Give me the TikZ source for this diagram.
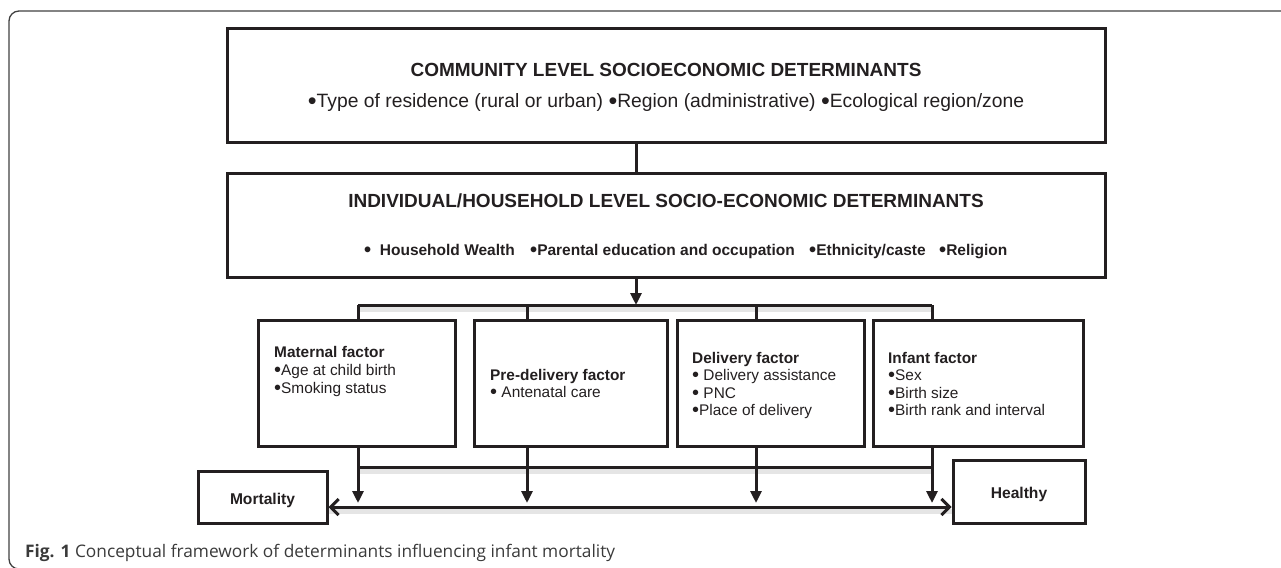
\documentclass[tikz,border=0pt]{standalone}
\usepackage{fontspec}
\setmainfont{Liberation Sans}
\newfontfamily\capfont{Open Sans}
\usetikzlibrary{arrows.meta}
\definecolor{ink}{HTML}{231F20}
\definecolor{capgray}{HTML}{3A3A3A}
\newcommand\bul{\raisebox{-0.08em}{\scalebox{1.3}{•}}}
\begin{document}
\begin{tikzpicture}[x=1pt,y=-1pt,
  box/.style={draw=ink, line width=3pt, inner sep=0pt},
  conn/.style={draw=ink, line width=3pt},
  shade/.style={draw=black!10, line width=5pt},
  downarrow/.style={conn, -{Triangle[width=11pt,length=12pt]}},
  barb/.style={conn, {Straight Barb[width=16pt,length=8pt]}-{Straight Barb[width=16pt,length=8pt]}},
  txt/.style={inner sep=0pt, anchor=base west, text=ink},
  ctxt/.style={inner sep=0pt, anchor=base, text=ink},
  factor/.style={inner sep=0pt, anchor=base west, text=ink, align=left,
    font=\fontsize{15.4}{17.5}\selectfont},
  big/.style={font=\fontsize{19.3}{22}\selectfont},
  bigb/.style={font=\fontsize{19}{22}\selectfont\bfseries},
  midb/.style={font=\fontsize{15.5}{18}\selectfont\bfseries},
  smallb/.style={font=\fontsize{15.6}{18}\selectfont\bfseries}]
\useasboundingbox (0,0) rectangle (1281,567);
\clip (0,0) rectangle (1281,567);
% outer frame
\draw[draw=black!75, line width=1.3pt, rounded corners=10pt] (9,11) rectangle (1300,569);

% main boxes
\node[box, minimum width=878pt, minimum height=113pt] (top) at (666,85.5) {};
\node[box, minimum width=878pt, minimum height=104pt] (ind) at (666,225) {};
\node[ctxt, bigb] (topT) at (666,76.5) {COMMUNITY LEVEL SOCIOECONOMIC DETERMINANTS};
\node[ctxt, big] (topL) at (666,108) {\bul Type of residence (rural or urban) \bul Region (administrative) \bul Ecological region/zone};
\node[ctxt, bigb] (indT) at (666,207) {INDIVIDUAL/HOUSEHOLD LEVEL SOCIO-ECONOMIC DETERMINANTS};
\node[txt, midb] (indA) at (364,255) {\bul\ \ Household Wealth};
\node[txt, midb] (indB) at (530,255) {\bul Parental education and occupation};
\node[txt, midb] (indC) at (809,255) {\bul Ethnicity/caste};
\node[txt, midb] (indD) at (939,255) {\bul Religion};

% factor boxes
\node[box, minimum width=197pt, minimum height=126pt] (mat) at (356.5,383) {};
\node[box, minimum width=193pt, minimum height=126pt] (pre) at (570.5,383) {};
\node[box, minimum width=186.5pt, minimum height=126pt] (del) at (771,383) {};
\node[box, minimum width=210pt, minimum height=126pt] (inf) at (978,383) {};

% factor texts (anchored at the baseline of their last line)
\node[factor] (matT) at (274,393) {\textbf{Maternal factor}\\[0.5pt] \bul Age at child birth\\[0.5pt] \bul Smoking status};
\node[factor] (preT) at (490,397.5) {\textbf{Pre-delivery factor}\\ \bul\ Antenatal care};
\node[factor] (delT) at (692,415.5) {\textbf{Delivery factor}\\ \bul\ Delivery assistance\\ \bul\ PNC\\ \bul Place of delivery};
\node[factor] (infT) at (888,415.5) {\textbf{Infant factor}\\ \bul Sex\\ \bul Birth size\\ \bul Birth rank and interval};

% outcome boxes
\node[box, minimum width=129pt, minimum height=52pt] (mort) at (262.5,497) {};
\node[box, minimum width=132pt, minimum height=63pt] (heal) at (1019,491.5) {};
\node[ctxt, smallb] (mortT) at (mort.center |- 0,504) {Mortality};
\node[ctxt, smallb] (healT) at (heal.center |- 0,498) {Healthy};

% helper coordinates
\coordinate (sp) at (636,0);
\coordinate (v1) at (358,0);
\coordinate (v2) at (527,0);
\coordinate (v3) at (756,0);
\coordinate (v4) at (932,0);
\coordinate (busy) at (0,305);
\coordinate (lowy) at (0,467);
\coordinate (tipy) at (0,503);
\coordinate (arry) at (0,507);

% shadows of horizontal connectors
\draw[shade] ([yshift=-4.5pt]v1 |- busy) -- ([yshift=-4.5pt]v4 |- busy);
\draw[shade] ([yshift=-4.5pt]v1 |- lowy) -- ([yshift=-4.5pt]v4 |- lowy);
\draw[shade] ([yshift=-4.5pt]mort.east |- arry) -- ([yshift=-4.5pt]heal.west |- arry);

% connectors
\draw[conn] (sp |- top.south) -- (sp |- ind.north);
\draw[downarrow] (sp |- ind.south) -- (sp |- busy);
\draw[conn] (v1 |- busy) -- (v4 |- busy);
\draw[conn] (v1 |- busy) -- (v1 |- mat.north);
\draw[conn] (v2 |- busy) -- (v2 |- pre.north);
\draw[conn] (v3 |- busy) -- (v3 |- del.north);
\draw[conn] (v4 |- busy) -- (v4 |- inf.north);
\draw[conn] (v1 |- lowy) -- (v4 |- lowy);
\draw[downarrow] (v1 |- mat.south) -- (v1 |- tipy);
\draw[downarrow] (v2 |- pre.south) -- (v2 |- tipy);
\draw[downarrow] (v3 |- del.south) -- (v3 |- tipy);
\draw[downarrow] (v4 |- inf.south) -- (v4 |- tipy);
\draw[barb] (mort.east |- arry) -- (heal.west |- arry);

% caption
\node[inner sep=0pt, anchor=base west, text=capgray, font=\capfont\fontsize{17.3}{20}\selectfont] (cap) at (25,557) {\textbf{Fig. 1} Conceptual framework of determinants influencing infant mortality};
\end{tikzpicture}
\end{document}
